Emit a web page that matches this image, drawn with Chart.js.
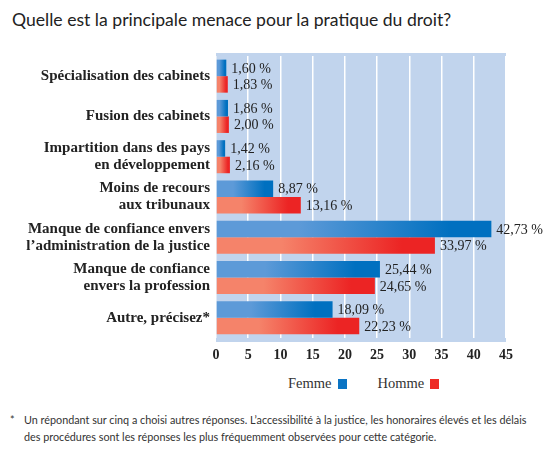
<!DOCTYPE html>
<html lang="fr">
<head>
<meta charset="utf-8">
<script src="https://cdn.jsdelivr.net/npm/chart.js@4/dist/chart.umd.min.js"></script>
<style>
  body { margin: 0; background: #fff; width: 560px; height: 458px; position: relative; overflow: hidden; }
  #title { position: absolute; left: 12px; top: 9px; font: 17.6px Lato, sans-serif; color: #222; white-space: nowrap; }
  #wrap { position: absolute; left: 0; top: 40px; width: 560px; height: 320px; }
  #legend { position: absolute; top: 375px; left: 288px; font: 14.5px "Liberation Serif", serif; color: #333; white-space: nowrap; }
  #legend span.box { display: inline-block; width: 9px; height: 10px; margin-left: 6px; margin-right: 31px; vertical-align: -1px; }
  #note { position: absolute; left: 0; top: 412px; font: 10.8px Lato, sans-serif; color: #333; line-height: 16.5px; }
  #note .star { position: absolute; left: 10px; top: 0; }
  #note .txt { margin-left: 24px; white-space: nowrap; }
</style>
</head>
<body>
<div id="title">Quelle est la principale menace pour la pratique du droit?</div>
<div id="wrap"><canvas id="chart"></canvas></div>
<div id="legend">Femme<span class="box" style="background:#0a74c4"></span>Homme<span class="box" style="background:#ee2a24"></span></div>
<div id="note"><span class="star">*</span><div class="txt">Un répondant sur cinq a choisi autres réponses. L’accessibilité à la justice, les honoraires élevés et les délais<br>des procédures sont les réponses les plus fréquemment observées pour cette catégorie.</div></div>
<script>
var categories = [
    'Spécialisation des cabinets',
    'Fusion des cabinets',
    ['Impartition dans des pays', 'en développement'],
    ['Moins de recours', 'aux tribunaux'],
    ['Manque de confiance envers', 'l’administration de la justice'],
    ['Manque de confiance', 'envers la profession'],
    'Autre, précisez*'
];
var femme = [1.60, 1.86, 1.42, 8.87, 42.73, 25.44, 18.09];
var homme = [1.83, 2.00, 2.16, 13.16, 33.97, 24.65, 22.23];

function barGradient(light, dark) {
    return function (ctx) {
        var chart = ctx.chart;
        if (!chart.chartArea || ctx.type !== 'data' || !chart.scales.x) return dark;
        var x0 = chart.scales.x.getPixelForValue(0);
        var x1 = chart.scales.x.getPixelForValue(ctx.raw);
        if (!isFinite(x0) || !isFinite(x1) || x1 - x0 < 1) return dark;
        var g = chart.ctx.createLinearGradient(x0, 0, x1, 0);
        g.addColorStop(0, light);
        g.addColorStop(0.3, light);
        g.addColorStop(0.85, dark);
        g.addColorStop(1, dark);
        return g;
    };
}

var plotBackground = {
    id: 'plotBackground',
    beforeDraw: function (chart) {
        var a = chart.chartArea, c = chart.ctx;
        c.save();
        c.fillStyle = '#c1d4ed';
        c.fillRect(a.left, a.top - 3, a.right - a.left, a.bottom - a.top + 7);
        c.restore();
    }
};

var valueLabels = {
    id: 'valueLabels',
    afterDatasetsDraw: function (chart) {
        var c = chart.ctx;
        c.save();
        c.font = '14px "Liberation Serif", serif';
        c.fillStyle = '#222';
        c.textBaseline = 'middle';
        c.textAlign = 'left';
        chart.data.datasets.forEach(function (ds, i) {
            chart.getDatasetMeta(i).data.forEach(function (bar, j) {
                var txt = ds.data[j].toFixed(2).replace('.', ',') + ' %';
                c.fillText(txt, bar.x + 5, bar.y + 1);
            });
        });
        c.restore();
    }
};

new Chart(document.getElementById('chart'), {
    type: 'bar',
    data: {
        labels: categories,
        datasets: [
            { label: 'Femme', data: femme, backgroundColor: barGradient('#5d9ad8', '#0070c0') },
            { label: 'Homme', data: homme, backgroundColor: barGradient('#f5836a', '#ec2424') }
        ]
    },
    options: {
        indexAxis: 'y',
        responsive: true,
        maintainAspectRatio: false,
        animation: false,
        categoryPercentage: 0.82,
        barPercentage: 1,
        layout: { padding: { top: 16, right: 54, left: 0, bottom: 0 } },
        plugins: { legend: { display: false }, tooltip: { enabled: false } },
        scales: {
            x: {
                min: 0, max: 45,
                ticks: { stepSize: 5, padding: 9, color: '#222', font: { family: '"Liberation Serif", serif', size: 14, weight: 'bold' } },
                grid: { color: '#ffffff', lineWidth: 1.5, drawTicks: false },
                border: { display: false },
                afterFit: function (s) { s.height = 22; }
            },
            y: {
                ticks: { padding: 6, color: '#222', font: { family: '"Liberation Serif", serif', size: 15, weight: 'bold', lineHeight: 1.13 } },
                grid: { display: false, drawTicks: false },
                border: { display: false },
                afterFit: function (s) { s.width = 216; }
            }
        }
    },
    plugins: [plotBackground, valueLabels]
});
</script>
</body>
</html>
